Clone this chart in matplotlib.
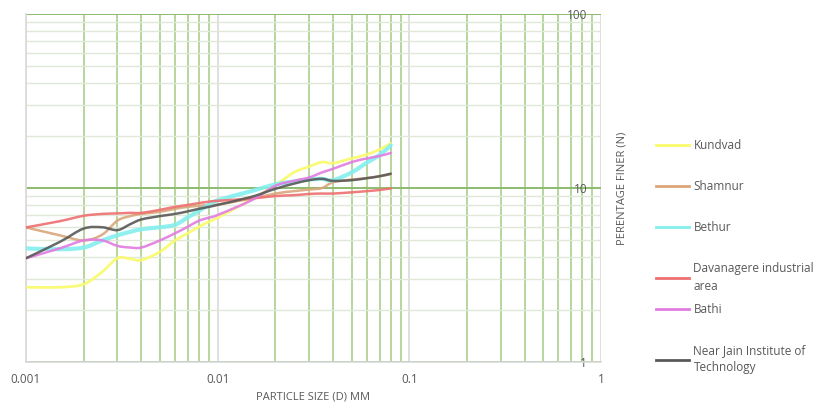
import matplotlib
matplotlib.use('Agg')
import numpy as np
import matplotlib.pyplot as plt
from matplotlib.path import Path
from matplotlib.patches import PathPatch
from matplotlib.lines import Line2D
from matplotlib.ticker import LogLocator, NullFormatter, FixedLocator, FixedFormatter

plt.rcParams['font.family'] = ['Open Sans', 'DejaVu Sans']

# particle size (mm)
size = [0.001, 0.0015, 0.002, 0.0025, 0.003, 0.0035, 0.004, 0.005, 0.006, 0.007,
        0.008, 0.009, 0.01, 0.015, 0.02, 0.025, 0.03, 0.035, 0.04, 0.05, 0.06,
        0.07, 0.08]

kundvad = [2.69, 2.69, 2.8, 3.3, 3.95, 3.92, 3.85, 4.3, 5.0, 5.5, 6.0, 6.4, 6.75,
           8.6, 10.4, 12.3, 13.3, 14.1, 13.9, 14.8, 15.6, 16.7, 18.1]
shamnur = [5.94, 5.35, 5.0, 5.4, 6.5, 6.9, 7.1, 7.3, 7.6, 7.8, 7.9, 8.0, 8.05,
           8.7, 9.3, 9.6, 9.8, 10.0, 10.8, 11.2, 11.4, 11.7, 12.0]
bethur = [4.5, 4.45, 4.55, 5.0, 5.35, 5.6, 5.8, 5.95, 6.15, 6.8, 7.4, 8.0, 8.5,
          9.6, 10.5, 10.9, 11.2, 11.3, 11.1, 12.3, 14.0, 15.5, 17.6]
davanagere = [5.94, 6.45, 6.93, 7.1, 7.15, 7.2, 7.2, 7.5, 7.8, 8.0, 8.2, 8.35, 8.45,
              8.7, 9.0, 9.1, 9.25, 9.3, 9.3, 9.45, 9.6, 9.75, 9.95]
bathi = [3.95, 4.5, 5.0, 5.0, 4.65, 4.55, 4.55, 5.0, 5.5, 6.0, 6.5, 6.75, 7.0,
         8.5, 10.3, 11.0, 11.5, 12.3, 12.9, 14.1, 14.8, 15.3, 15.9]
near_jain = [3.95, 4.9, 5.85, 5.95, 5.73, 6.2, 6.6, 6.9, 7.1, 7.35, 7.6, 7.8, 8.0,
             8.9, 9.9, 10.6, 11.1, 11.3, 11.0, 11.1, 11.4, 11.7, 12.1]

series = [
    ('Kundvad', kundvad, '#FAFA6A', 2.0),
    ('Shamnur', shamnur, '#D9A67C', 1.8),
    ('Bethur', bethur, '#84EEEE', 3.0),
    ('Davanagere industrial\narea', davanagere, '#EE6F6F', 1.8),
    ('Bathi', bathi, '#E27BE2', 1.8),
    ('Near Jain Institute of\nTechnology', near_jain, '#595959', 1.8),
]

x_ticks = [0.001, 0.01, 0.1, 1]
x_labels = ['0.001', '0.01', '0.1', '1']
y_ticks = [1, 10, 100]
y_labels = ['1', '10', '100']


def smooth_path(xs, ys):
    # excel-like smoothed line: catmull-rom segments as cubic beziers, in log space
    p = np.column_stack([np.log10(xs), np.log10(ys)])
    ext = np.vstack([p[0], p, p[-1]])
    verts = [p[0]]
    codes = [Path.MOVETO]
    for i in range(len(p) - 1):
        p0, p1, p2, p3 = ext[i], ext[i + 1], ext[i + 2], ext[i + 3]
        verts += [p1 + (p2 - p0) / 6, p2 - (p3 - p1) / 6, p2]
        codes += [Path.CURVE4] * 3
    return Path(10 ** np.array(verts), codes)


fig = plt.figure(figsize=(8.3, 4.04), dpi=100)
ax = fig.add_axes([0.0313, 0.104, 0.6928, 0.861])

ax.set_xscale('log')
ax.set_yscale('log')
ax.set_xlim(0.001, 1)
ax.set_ylim(1, 100)

handles = []
for name, vals, col, lw in series:
    patch = PathPatch(smooth_path(size, vals), fill=False, edgecolor=col, lw=lw,
                      alpha=0.9, capstyle='round', joinstyle='round', zorder=3)
    ax.add_patch(patch)
    handles.append(Line2D([], [], color=col, lw=2.0))

ax.xaxis.set_major_locator(FixedLocator(x_ticks))
ax.xaxis.set_major_formatter(FixedFormatter(x_labels))
ax.yaxis.set_major_locator(FixedLocator(y_ticks))
ax.yaxis.set_major_formatter(FixedFormatter(y_labels))
ax.xaxis.set_minor_locator(LogLocator(base=10, subs=range(2, 10)))
ax.yaxis.set_minor_locator(LogLocator(base=10, subs=range(2, 10)))
ax.xaxis.set_minor_formatter(NullFormatter())
ax.yaxis.set_minor_formatter(NullFormatter())

ax.grid(which='minor', axis='x', color='#A9CF8C', lw=1.2)
ax.grid(which='major', axis='x', color='#D9D9D9', lw=1.2)
ax.grid(which='major', axis='y', color='#8DBB6E', lw=1.4)
ax.grid(which='minor', axis='y', color='#E0E9D8', lw=1.0)
ax.set_axisbelow(True)

for s in ['top', 'right']:
    ax.spines[s].set_visible(False)
for s in ['bottom', 'left']:
    ax.spines[s].set_color('#D9D9D9')
    ax.spines[s].set_linewidth(1.2)

ax.tick_params(axis='both', which='both', length=0, labelsize=8.5, labelcolor='#595959')
ax.tick_params(axis='x', pad=8)
ax.tick_params(axis='y', labelleft=False, labelright=True, pad=-10)
for t in ax.yaxis.get_major_ticks():
    t.label2.set_horizontalalignment('right')

ax.set_xlabel('PARTICLE SIZE (D) MM', fontsize=8, color='#595959', labelpad=4)
ax.yaxis.set_label_position('right')
ax.set_ylabel('PERENTAGE FINER (N)', fontsize=8, color='#595959', va='center')
ax.yaxis.set_label_coords(1.037, 0.5)

# one legend per entry so that each first line keeps the same spacing
for i, (h, (name, vals, col, lw)) in enumerate(zip(handles, series)):
    top = 139 + 41 * i
    leg = fig.legend(handles=[h], labels=[name], loc='upper left',
                     bbox_to_anchor=(0.79, 1 - top / 404), frameon=False,
                     fontsize=8.5, handlelength=2.8, handletextpad=0.4,
                     borderaxespad=0, borderpad=0)
    for txt in leg.get_texts():
        txt.set_color('#595959')
        txt.set_linespacing(1.45)

fig.savefig('out.png', dpi=100)
